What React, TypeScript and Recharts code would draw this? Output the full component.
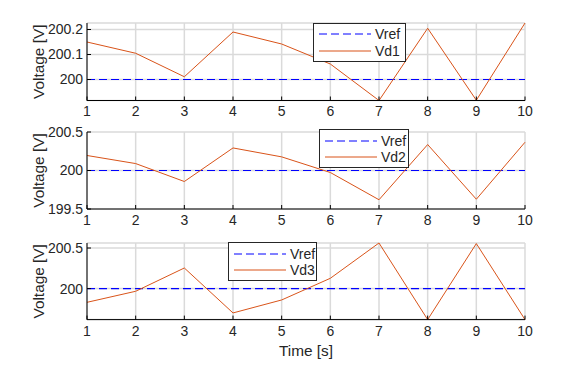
import { LineChart, Line, XAxis, YAxis, CartesianGrid, Legend } from 'recharts'

const time = [1, 2, 3, 4, 5, 6, 7, 8, 9, 10]
const vref = [200, 200, 200, 200, 200, 200, 200, 200, 200, 200]
const vd1 = [200.15, 200.105, 200.011, 200.19, 200.142, 200.062, 199.916, 200.205, 199.917, 200.226]
const vd2 = [200.195, 200.09, 199.857, 200.293, 200.177, 199.974, 199.62, 200.337, 199.627, 200.367]
const vd3 = [199.831, 199.967, 200.254, 199.7, 199.86, 200.127, 200.562, 199.618, 200.555, 199.618]

const xTicks = [1, 2, 3, 4, 5, 6, 7, 8, 9, 10]
const yTicks1 = [200, 200.1, 200.2]
const yTicks2 = [199.5, 200, 200.5]
const yTicks3 = [200, 200.5]

const ORANGE = '#D95319'
const BLUE = '#0000FF'
const INK = '#262626'
const FONT = '"Liberation Sans", Arial, sans-serif'

interface Panel {
  name: string
  values: number[]
  ticks: number[]
  domain: [number, number]
  plotTop: number
  plotH: number
  legendLeft: number
  legendTop: number
  legendW: number
  showTime: boolean
}

const panels: Panel[] = [
  { name: 'Vd1', values: vd1, ticks: yTicks1, domain: [Math.min(...vd1), Math.max(...vd1)], plotTop: 23, plotH: 77.5, legendLeft: 313, legendTop: 23, legendW: 93, showTime: false },
  { name: 'Vd2', values: vd2, ticks: yTicks2, domain: [199.5, 200.5], plotTop: 132.3, plotH: 77, legendLeft: 319, legendTop: 129.5, legendW: 90, showTime: false },
  { name: 'Vd3', values: vd3, ticks: yTicks3, domain: [Math.min(...vd3), Math.max(...vd3)], plotTop: 242.7, plotH: 76.6, legendLeft: 228, legendTop: 242.5, legendW: 89, showTime: true },
]

function LegendBox({ name, width }: { name: string; width: number }) {
  const row = (dash: boolean, color: string, label: string) => (
    <div style={{ display: 'flex', alignItems: 'center', height: 16.5 }}>
      <svg width={52} height={10} style={{ marginLeft: 5, marginRight: 4 }}>
        <line x1={0} y1={5} x2={52} y2={5} stroke={color} strokeWidth={1} strokeDasharray={dash ? '8 4' : undefined} />
      </svg>
      <span>{label}</span>
    </div>
  )
  return (
    <div
      style={{
        width,
        height: 39,
        boxSizing: 'border-box',
        border: `1px solid ${INK}`,
        background: '#fff',
        paddingTop: 2,
        fontFamily: FONT,
        fontSize: 14,
        color: INK,
      }}
    >
      {row(true, BLUE, 'Vref')}
      {row(false, ORANGE, name)}
    </div>
  )
}

function PanelChart({ p }: { p: Panel }) {
  const xAxisH = p.showTime ? 40 : 30
  const top = p.plotTop - 10
  const data = time.map((t, i) => ({ t, vref: vref[i], vd: p.values[i] }))
  const tickStyle = { fontSize: 14, fill: INK, fontFamily: FONT }
  return (
    <div style={{ position: 'absolute', left: 0, top }}>
      <LineChart width={575} height={10 + p.plotH + xAxisH} data={data} margin={{ top: 10, right: 50, left: 0, bottom: 0 }}>
        <CartesianGrid stroke="#DADADA" strokeWidth={1.5} />
        <XAxis
          dataKey="t"
          type="number"
          domain={[1, 10]}
          ticks={xTicks}
          height={xAxisH}
          tick={tickStyle}
          tickSize={-4}
          tickMargin={10}
          stroke="#000"
          tickLine={{ stroke: '#000' }}
          label={p.showTime ? { value: 'Time [s]', position: 'insideBottom', offset: 4, fill: INK, fontSize: 15.4, fontFamily: FONT } : undefined}
        />
        <XAxis xAxisId="top" orientation="top" dataKey="t" type="number" domain={[1, 10]} ticks={xTicks} height={0} tick={false} tickSize={-4} stroke="#000" />
        <YAxis
          type="number"
          domain={p.domain}
          ticks={p.ticks}
          width={87}
          tick={tickStyle}
          tickSize={-4}
          tickMargin={8}
          stroke="#000"
          label={{ value: 'Voltage [V]', angle: -90, position: 'insideLeft', offset: 39, style: { textAnchor: 'middle' }, fill: INK, fontSize: 15.4, fontFamily: FONT }}
        />
        <YAxis yAxisId="right" orientation="right" type="number" domain={p.domain} ticks={p.ticks} width={0} tick={false} tickSize={-4} stroke="#000" />
        <Legend
          layout="horizontal"
          verticalAlign="middle"
          align="center"
          wrapperStyle={{ left: p.legendLeft, top: p.legendTop - top, width: p.legendW }}
          content={() => <LegendBox name={p.name} width={p.legendW} />}
        />
        <Line dataKey="vref" name="Vref" stroke={BLUE} strokeWidth={1.2} strokeDasharray="8 4" dot={false} isAnimationActive={false} />
        <Line dataKey="vd" name={p.name} stroke={ORANGE} strokeWidth={1} dot={false} isAnimationActive={false} />
      </LineChart>
    </div>
  )
}

export default function App() {
  return (
    <div style={{ position: 'absolute', left: 0, top: 0, width: 575, height: 369, background: '#fff', overflow: 'hidden' }}>
      {panels.map((p) => (
        <PanelChart key={p.name} p={p} />
      ))}
    </div>
  )
}
